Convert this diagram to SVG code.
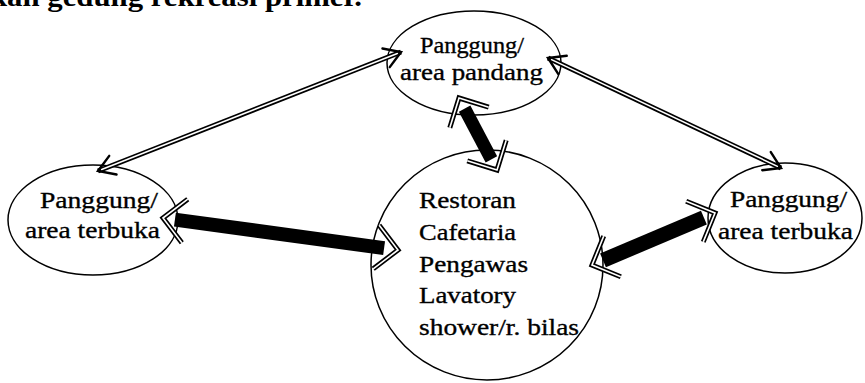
<svg xmlns="http://www.w3.org/2000/svg" width="865" height="383" viewBox="0 0 865 383">
<style>
  .node { fill: #ffffff; stroke: #000000; stroke-width: 1.5; }
  .lbl { font-family: "Liberation Serif", "Times New Roman", serif; font-size: 24px; fill: #000000; stroke: #000000; stroke-width: 0.35; }
  .cap { font-family: "Liberation Serif", "Times New Roman", serif; font-size: 27px; font-weight: bold; fill: #000000; }
  .dblo { fill: none; stroke: #000000; stroke-width: 5; stroke-linejoin: miter; }
  .dbli { fill: none; stroke: #ffffff; stroke-width: 1.6; stroke-linejoin: miter; }
  .bar { stroke: #000000; stroke-linecap: butt; }
  .vhead { fill: none; stroke: #000000; stroke-width: 2.4; stroke-linecap: round; stroke-linejoin: miter; }
</style>
<defs>
  <path id="chev" d="M22,-22 L0,0 L22,22"/>
  <path id="vh" d="M16,-10 L0,0 L16,10"/>
</defs>
<rect x="0" y="0" width="865" height="383" fill="#ffffff"/>

<text class="cap" x="-10" y="6" textLength="372" lengthAdjust="spacingAndGlyphs">kan gedung rekreasi primer.</text>

<g id="node-top">
  <ellipse class="node" cx="474" cy="63" rx="87" ry="52"/>
  <text class="lbl" x="420" y="53" textLength="104" lengthAdjust="spacingAndGlyphs">Panggung/</text>
  <text class="lbl" x="400" y="80" textLength="143" lengthAdjust="spacingAndGlyphs">area pandang</text>
</g>
<g id="node-left">
  <ellipse class="node" cx="93" cy="220" rx="85" ry="55"/>
  <text class="lbl" x="40" y="208" textLength="118" lengthAdjust="spacingAndGlyphs">Panggung/</text>
  <text class="lbl" x="25" y="238" textLength="135" lengthAdjust="spacingAndGlyphs">area terbuka</text>
</g>
<g id="node-right">
  <ellipse class="node" cx="785" cy="218" rx="77" ry="55"/>
  <text class="lbl" x="730" y="207" textLength="117" lengthAdjust="spacingAndGlyphs">Panggung/</text>
  <text class="lbl" x="718" y="239" textLength="135" lengthAdjust="spacingAndGlyphs">area terbuka</text>
</g>
<g id="node-center">
  <ellipse class="node" cx="487" cy="265" rx="116" ry="115"/>
  <text class="lbl" x="419" y="208" textLength="97" lengthAdjust="spacingAndGlyphs">Restoran</text>
  <text class="lbl" x="419" y="240" textLength="97" lengthAdjust="spacingAndGlyphs">Cafetaria</text>
  <text class="lbl" x="419" y="272" textLength="109" lengthAdjust="spacingAndGlyphs">Pengawas</text>
  <text class="lbl" x="419" y="303" textLength="97" lengthAdjust="spacingAndGlyphs">Lavatory</text>
  <text class="lbl" x="419" y="335" textLength="160" lengthAdjust="spacingAndGlyphs">shower/r. bilas</text>
</g>

<g id="connectors">
  <line class="dblo" x1="401" y1="52" x2="98" y2="171"/>
  <line class="dbli" x1="398" y1="53.2" x2="101" y2="169.8"/>
  <use href="#vh" class="vhead" transform="translate(98,171) rotate(-21.4)"/>
  <use href="#vh" class="vhead" transform="translate(401,52) rotate(158.6)"/>

  <line class="dblo" x1="548" y1="58" x2="781" y2="168"/>
  <line class="dbli" x1="551" y1="59.4" x2="778" y2="166.6"/>
  <use href="#vh" class="vhead" transform="translate(548,58) rotate(25.3)"/>
  <use href="#vh" class="vhead" transform="translate(781,168) rotate(205.3)"/>

  <line class="bar" x1="174.9" y1="219.6" x2="384.1" y2="248.1" stroke-width="14"/>
  <g transform="translate(163,218) rotate(7.75)"><use href="#chev" class="dblo"/><use href="#chev" class="dbli"/></g>
  <g transform="translate(398,250) rotate(187.75)"><use href="#chev" class="dblo"/><use href="#chev" class="dbli"/></g>

  <line class="bar" x1="464.6" y1="108.6" x2="491.4" y2="159.4" stroke-width="13"/>
  <g transform="translate(459,98) rotate(62.2)"><use href="#chev" class="dblo"/><use href="#chev" class="dbli"/></g>
  <g transform="translate(497,170) rotate(242.2)"><use href="#chev" class="dblo"/><use href="#chev" class="dbli"/></g>

  <line class="bar" x1="603" y1="260.3" x2="703.9" y2="217.6" stroke-width="15"/>
  <g transform="translate(592,265) rotate(-22.9)"><use href="#chev" class="dblo"/><use href="#chev" class="dbli"/></g>
  <g transform="translate(715,213) rotate(157.1)"><use href="#chev" class="dblo"/><use href="#chev" class="dbli"/></g>
</g>
</svg>
